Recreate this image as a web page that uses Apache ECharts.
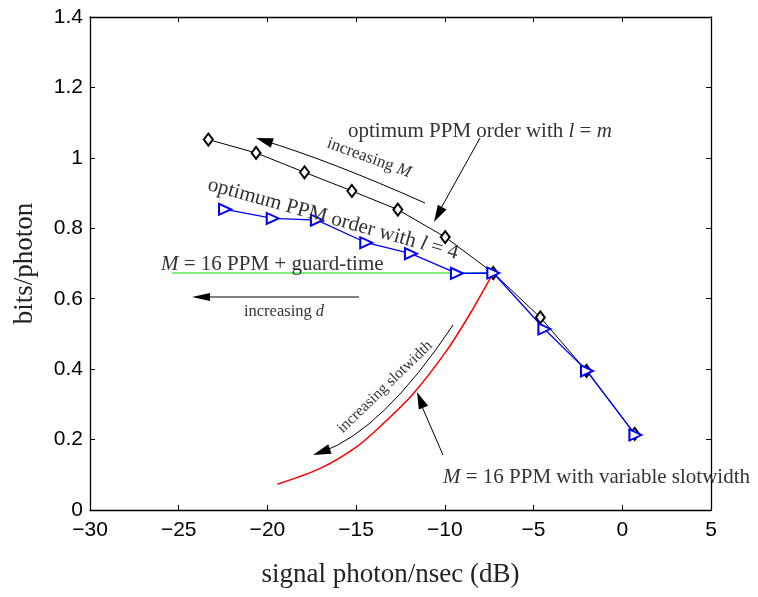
<!DOCTYPE html>
<html>
<head>
<meta charset="utf-8">
<script src="https://cdn.jsdelivr.net/npm/echarts@6/dist/echarts.min.js"></script>
<style>
  html, body { margin: 0; padding: 0; background: #fff; }
  #chart { width: 758px; height: 597px; }
</style>
</head>
<body>
<div id="chart"></div>
<script>
// tick labels
const xTicks = [-30, -25, -20, -15, -10, -5, 0, 5];
const yTicks = [0, 0.2, 0.4, 0.6, 0.8, 1, 1.2, 1.4];

// optimum PPM order with l = m (black diamonds)
const optMX = [-23.33, -20.64, -17.91, -15.24, -12.65, -9.98, -7.27, -4.62, -2.02, 0.70];
const optMY = [1.052, 1.014, 0.959, 0.906, 0.853, 0.775, 0.673, 0.547, 0.395, 0.216];
// optimum PPM order with l = 4 (blue triangles)
const opt4X = [-22.39, -19.70, -17.21, -14.43, -11.91, -9.32, -7.27, -4.39, -1.99, 0.74];
const opt4Y = [0.854, 0.828, 0.823, 0.759, 0.728, 0.672, 0.673, 0.514, 0.395, 0.213];
// M = 16 PPM + guard-time (green)
const guardX = [-25.39, -7.27];
const guardY = [0.673, 0.673];
// M = 16 PPM with variable slotwidth (red)
const slotX = [-19.44, -17.03, -14.96, -13.46, -11.77, -9.88, -8.57, -7.34, -7.27];
const slotY = [0.073, 0.118, 0.180, 0.246, 0.331, 0.454, 0.558, 0.667, 0.673];

const zip = (xs, ys) => xs.map((x, i) => [x, ys[i]]);

const serif = 'Liberation Serif';
const sans = 'Liberation Sans';
const txtCol = '#333';

// filled arrow head pointing at (tx, ty), coming from (fx, fy)
function head(tx, ty, fx, fy, len, hw) {
  const dx = tx - fx, dy = ty - fy, d = Math.hypot(dx, dy);
  const ux = dx / d, uy = dy / d;
  const bx = tx - ux * len, by = ty - uy * len;
  return {
    type: 'polygon', z: 100,
    shape: { points: [[tx, ty], [bx - uy * hw, by + ux * hw], [bx + uy * hw, by - ux * hw]] },
    style: { fill: '#000' }
  };
}

function label(text, x, y, size, opts) {
  opts = opts || {};
  return {
    type: 'text', z: 100,
    x: x, y: y, rotation: (opts.rot || 0) * Math.PI / 180,
    style: {
      text: text, x: 0, y: 0,
      fontFamily: serif, fontSize: size, fill: opts.fill || txtCol,
      align: opts.align || 'left', verticalAlign: 'middle',
      rich: { i: { fontFamily: serif, fontSize: size, fontStyle: 'italic', fill: opts.fill || txtCol } }
    }
  };
}

function seg(x1, y1, x2, y2, color, w) {
  return {
    type: 'line', z: 90,
    shape: { x1: x1, y1: y1, x2: x2, y2: y2 },
    style: { stroke: color, lineWidth: w }
  };
}

const annotations = [
  // optimum PPM order with l = m
  label('optimum PPM order with {i|l} = {i|m}', 348, 131, 21),
  seg(480, 138, 440, 210, '#000', 1),
  head(434, 222, 480, 138, 17, 5),
  // increasing M
  label('increasing {i|M}', 369, 158, 17, { align: 'center', rot: -20 }),
  {
    type: 'bezierCurve', z: 90,
    shape: { x1: 425, y1: 203, x2: 262, y2: 140, cpx1: 331, cpy1: 161 },
    style: { stroke: '#000', lineWidth: 1, fill: 'none' }
  },
  head(256, 138, 331, 161, 17, 5),
  // optimum PPM order with l = 4
  label('optimum PPM order with {i|l} = 4', 333, 219, 21, { align: 'center', rot: -15.5 }),
  // guard-time
  label('{i|M} = 16 PPM + guard-time', 161, 264, 21),
  seg(359, 297, 205, 297, '#808080', 2),
  head(192, 297, 359, 297, 18, 4),
  label('increasing {i|d}', 284, 312, 16.5, { align: 'center' }),
  // increasing slotwidth
  label('increasing slotwidth', 385, 387, 15.5, { align: 'center', rot: 44 }),
  {
    type: 'bezierCurve', z: 90,
    shape: { x1: 453, y1: 325, x2: 322, y2: 452, cpx1: 383, cpy1: 430 },
    style: { stroke: '#000', lineWidth: 1, fill: 'none' }
  },
  head(313, 455, 383, 430, 18, 5),
  // variable slotwidth
  seg(443, 455, 420, 402, '#000', 1),
  head(417, 392, 443, 455, 17, 5),
  label('{i|M} = 16 PPM with variable slotwidth', 443, 477, 21)
];

const axisLine = { onZero: false, lineStyle: { color: '#000', width: 1.3 } };
const tickIn = { inside: true, length: 5, lineStyle: { color: '#000', width: 1 } };

const chart = echarts.init(document.getElementById('chart'), null, { renderer: 'canvas' });
chart.setOption({
  backgroundColor: '#fff',
  animation: false,
  grid: { left: 90, right: 47, top: 17, bottom: 87 },
  xAxis: [{
    type: 'value', position: 'bottom',
    min: xTicks[0], max: xTicks[xTicks.length - 1], interval: xTicks[1] - xTicks[0],
    axisLine: axisLine, axisTick: tickIn, splitLine: { show: false },
    axisLabel: {
      color: '#000', fontFamily: sans, fontSize: 21, margin: 10,
      formatter: v => String(v).replace('-', '\u2212')
    },
    name: 'signal photon/nsec (dB)', nameLocation: 'middle', nameGap: 51,
    nameTextStyle: { color: '#222', fontFamily: serif, fontSize: 27, padding: [0, 20, 0, 0] }
  }, {
    type: 'value', position: 'top',
    min: xTicks[0], max: xTicks[xTicks.length - 1], interval: xTicks[1] - xTicks[0],
    axisLine: axisLine, axisTick: tickIn, axisLabel: { show: false }, splitLine: { show: false }
  }],
  yAxis: [{
    type: 'value', position: 'left',
    min: yTicks[0], max: yTicks[yTicks.length - 1], interval: yTicks[1] - yTicks[0],
    axisLine: axisLine, axisTick: tickIn, splitLine: { show: false },
    axisLabel: { color: '#000', fontFamily: sans, fontSize: 21, margin: 7 },
    name: 'bits/photon', nameLocation: 'middle', nameGap: 52,
    nameTextStyle: { color: '#222', fontFamily: serif, fontSize: 27 }
  }, {
    type: 'value', position: 'right',
    min: yTicks[0], max: yTicks[yTicks.length - 1], interval: yTicks[1] - yTicks[0],
    axisLine: axisLine, axisTick: tickIn, axisLabel: { show: false }, splitLine: { show: false }
  }],
  series: [{
    name: 'optimum PPM order with l = m', type: 'line',
    data: zip(optMX, optMY),
    symbol: 'emptyDiamond', symbolSize: [9, 12],
    lineStyle: { color: '#000', width: 1 },
    itemStyle: { color: '#000', borderWidth: 1 },
    z: 2
  }, {
    name: 'M = 16 PPM with variable slotwidth', type: 'line',
    data: zip(slotX, slotY), showSymbol: false, symbol: 'none', smooth: 0.3,
    lineStyle: { color: '#ff0000', width: 1.5 },
    z: 3
  }, {
    name: 'M = 16 PPM + guard-time', type: 'line',
    data: zip(guardX, guardY), showSymbol: false, symbol: 'none',
    lineStyle: { color: '#00e000', width: 1.2 },
    z: 4
  }, {
    name: 'optimum PPM order with l = 4', type: 'line',
    data: zip(opt4X, opt4Y),
    symbol: 'emptyTriangle', symbolSize: [11, 12], symbolRotate: -90,
    lineStyle: { color: '#0000ff', width: 1.3 },
    itemStyle: { color: '#0000ff', borderWidth: 1.3 },
    z: 5
  }],
  graphic: annotations
});
</script>
</body>
</html>
